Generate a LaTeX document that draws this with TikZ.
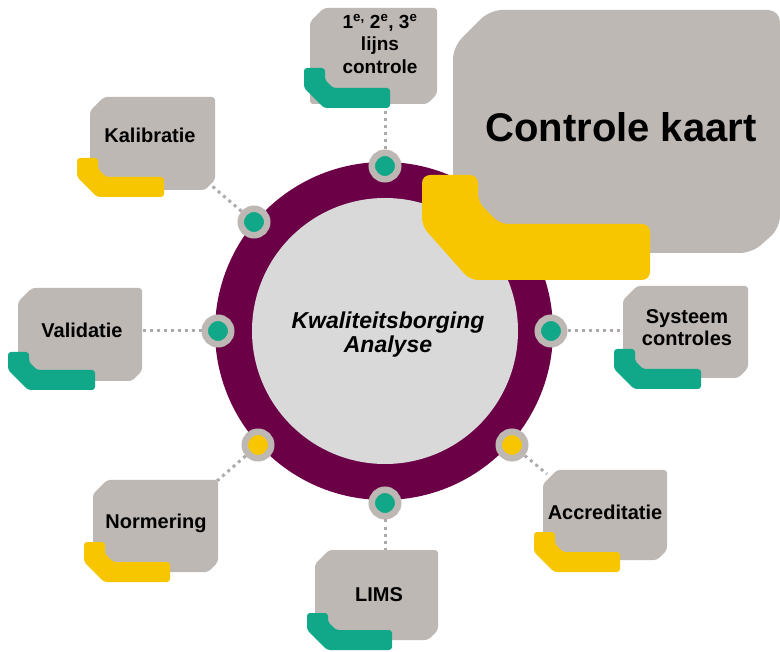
\documentclass[tikz,border=0pt]{standalone}
\usepackage{fontspec}
\setmainfont{Liberation Sans}
\definecolor{boxgray}{RGB}{190,184,181}
\definecolor{ringpurple}{RGB}{108,0,70}
\definecolor{innergray}{RGB}{217,217,217}
\definecolor{accteal}{RGB}{16,168,136}
\definecolor{accyellow}{RGB}{248,198,0}
\definecolor{linegray}{RGB}{172,170,170}
\newcommand{\qbox}[9]{%
  \fill[boxgray,rounded corners=3pt] ({#1+14},#2) -- (#3,#2) -- (#3,{#4-10}) -- ({#3-10},#4) -- (#1,#4) -- (#1,{#2+14}) -- cycle;
  \fill[#5,rounded corners=3pt] (#6,#7) -- ({#6+21},#7) -- ({#6+21},{#9-28}) -- ({#6+29},{#9-20}) -- (#8,{#9-20}) -- (#8,#9) -- ({#6+20},#9) -- (#6,{#9-20}) -- cycle;
}
\tikzset{
  dot/.style={circle,draw=boxgray,line width=6.5pt,minimum size=26.5pt,inner sep=0pt},
  dotline/.style={draw=linegray,line width=3pt,dash pattern=on 3pt off 4pt},
  lbl/.style={font=\fontsize{20}{22}\selectfont\bfseries,inner sep=0pt,align=center},
}
\begin{document}
\begin{tikzpicture}[x=1pt,y=-1pt]
\useasboundingbox (0,0) rectangle (780,652);
% ring
\fill[ringpurple] (384,331) circle (169);
\fill[innergray] (385,331) circle (133);
% box anchor coordinates
\coordinate (b1) at (385,106);
\coordinate (b2) at (212,186);
\coordinate (b3) at (142,331);
\coordinate (b4) at (623,331);
\coordinate (b5) at (547,474);
\coordinate (b6) at (217,481);
\coordinate (b7) at (385,550);
% dots
\node[dot,fill=accteal] (d1) at (385,166) {};
\node[dot,fill=accteal] (d2) at (254,222) {};
\node[dot,fill=accteal] (d3) at (218,331) {};
\node[dot,fill=accteal] (d4) at (551,331) {};
\node[dot,fill=accyellow] (d5) at (512,445) {};
\node[dot,fill=accyellow] (d6) at (258,445) {};
\node[dot,fill=accteal] (d7) at (385,503) {};
% connectors
\draw[dotline] (d1) -- (b1);
\draw[dotline] (d2) -- (b2);
\draw[dotline] (d3) -- (b3);
\draw[dotline] (d4) -- (b4);
\draw[dotline] (d5) -- (b5);
\draw[dotline] (d6) -- (b6);
\draw[dotline] (d7) -- (b7);
% small boxes
\qbox{310}{8}{437}{104}{accteal}{304}{68}{390}{108}
\qbox{90}{97}{215}{190}{accyellow}{77}{158}{164}{197}
\qbox{18}{288}{142}{381}{accteal}{8}{352}{95}{390}
\qbox{623}{286}{748}{378}{accteal}{614}{349}{701}{389}
\qbox{543}{470}{667}{560}{accyellow}{534}{532}{620}{572}
\qbox{93}{480}{218}{572}{accyellow}{84}{542}{170}{582}
\qbox{315}{550}{438}{640}{accteal}{307}{613}{392}{650}
% controle kaart
\fill[boxgray,rounded corners=12pt] (490,10) -- (780,10) -- (780,228) -- (752,253) -- (453,253) -- (453,47) -- cycle;
\fill[accyellow,rounded corners=8pt] (422,175) -- (478,175) -- (478,202) -- (500,224) -- (650,224) -- (650,280) -- (470,280) -- (422,226) -- cycle;
% texts
\node[font=\fontsize{23}{24}\selectfont\bfseries\itshape,align=center,inner sep=0pt] (ctr) at (388,335) {Kwaliteitsborging\\Analyse};
\node[font=\fontsize{40}{44}\selectfont\bfseries,inner sep=0pt,anchor=base] (ck) at (621,142) {Controle kaart};
\node[lbl,font=\fontsize{19}{22.5}\selectfont\bfseries] (t1) at (380,44) {1\textsuperscript{e,} 2\textsuperscript{e}, 3\textsuperscript{e}\\lijns\\controle};
\node[lbl,anchor=base] (t2) at (150,143) {Kalibratie};
\node[lbl,anchor=base] (t3) at (82,338) {Validatie};
\node[lbl] (t4) at (687,328) {Systeem\\controles};
\node[lbl,anchor=base] (t5) at (605,519) {Accreditatie};
\node[lbl,anchor=base] (t6) at (156,529) {Normering};
\node[lbl,anchor=base] (t7) at (379,601) {LIMS};
\end{tikzpicture}
\end{document}
